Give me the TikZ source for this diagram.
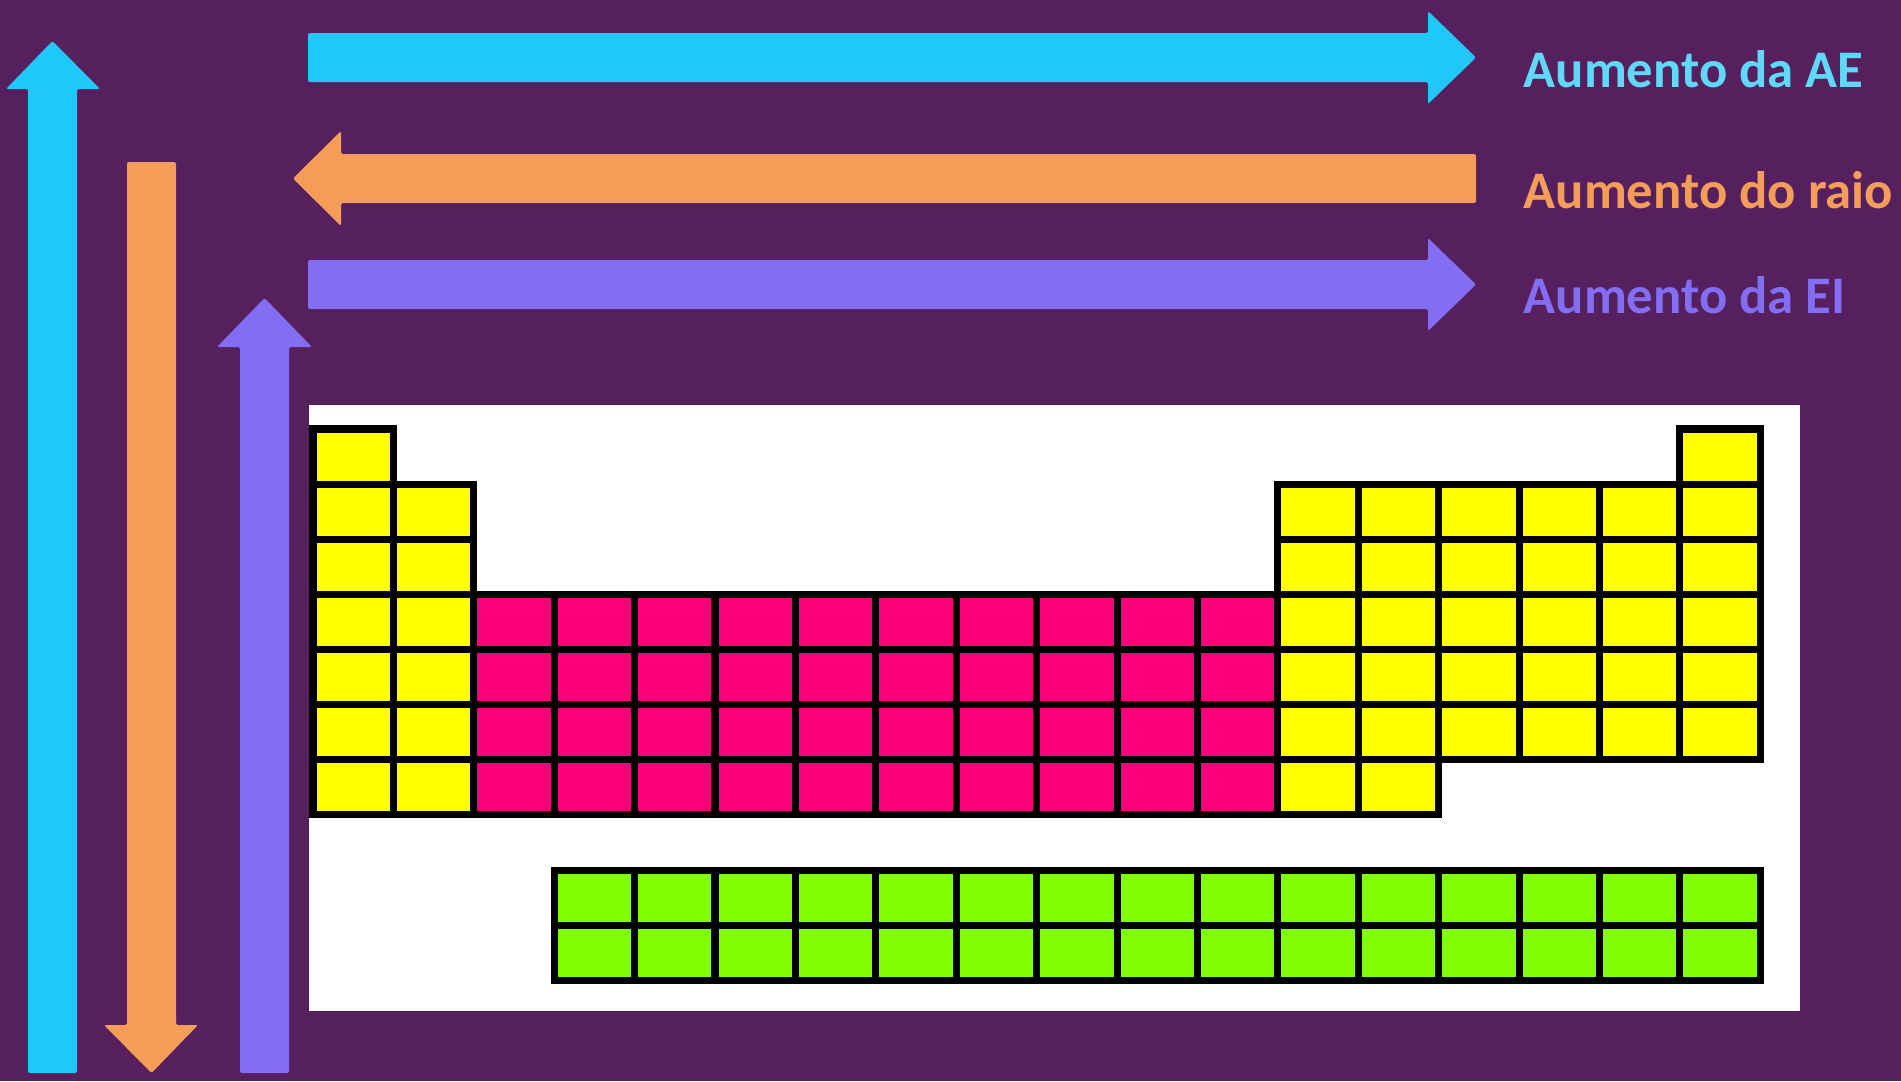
\documentclass[tikz,border=0pt]{standalone}
\usepackage{fontspec}
\setmainfont{Carlito}
\usepackage{tikz}
\usetikzlibrary{positioning}
\definecolor{fundo}{RGB}{86,31,94}
\definecolor{ciano}{RGB}{32,200,248}
\definecolor{cianotxt}{RGB}{96,216,248}
\definecolor{laranja}{RGB}{244,157,89}
\definecolor{roxo}{RGB}{130,110,242}
\definecolor{amarelo}{RGB}{255,255,0}
\definecolor{rosa}{RGB}{250,0,122}
\definecolor{verde}{RGB}{128,255,0}
\newcommand\celula[3]{\draw[celbox, fill=#3] ({313+80.4*#1},{429+55.1*#2}) rectangle +(80.4,55.1);}

\begin{document}
\begin{tikzpicture}[x=0.01cm, y=-0.01cm,
  seta/.style={rounded corners=0.6pt},
  celbox/.style={draw=black, line width=2pt},
  rotulo/.style={anchor=base west, inner sep=0pt, font=\fontsize{15pt}{18pt}\selectfont\bfseries}]
  \fill[fundo] (0,0) rectangle (1901,1081);
  \useasboundingbox (0,0) rectangle (1901,1081);

  \fill[ciano, seta] (308,33) -- (1428,33) -- (1428,11) -- (1476,57.5) -- (1428,104) -- (1428,82) -- (308,82) -- cycle;
  \fill[laranja, seta] (1476,154) -- (341,154) -- (341,131) -- (293,178.5) -- (341,226) -- (341,203) -- (1476,203) -- cycle;
  \fill[roxo, seta] (308,260) -- (1428,260) -- (1428,238) -- (1476,284.5) -- (1428,331) -- (1428,309) -- (308,309) -- cycle;

  \fill[ciano, seta] (28,1073) -- (28,89) -- (6,89) -- (52.5,41) -- (100,89) -- (77,89) -- (77,1073) -- cycle;
  \fill[laranja, seta] (127,162) -- (127,1025) -- (104,1025) -- (151.5,1073) -- (198,1025) -- (176,1025) -- (176,162) -- cycle;
  \fill[roxo, seta] (240,1073) -- (240,347) -- (217,347) -- (264.5,298) -- (312,347) -- (289,347) -- (289,1073) -- cycle;

  \node[rotulo, text=cianotxt] (ae) at (1523,87) {Aumento da AE};
  \node[rotulo, text=laranja] (raio) at (1523,208) {Aumento do raio};
  \node[rotulo, text=roxo] (ei) at (1523,313) {Aumento da EI};

  \fill[white] (309,405) rectangle (1800,1011);

  \celula{0}{0}{amarelo}
  \celula{17}{0}{amarelo}
  \foreach \r in {1,...,6} {
    \celula{0}{\r}{amarelo}
    \celula{1}{\r}{amarelo}
  }
  \foreach \r in {1,...,5} {
    \foreach \c in {12,...,17} {
      \celula{\c}{\r}{amarelo}
    }
  }
  \foreach \r in {3,...,6} {
    \foreach \c in {2,...,11} {
      \celula{\c}{\r}{rosa}
    }
  }
  \celula{12}{6}{amarelo}
  \celula{13}{6}{amarelo}

  \foreach \c in {3,...,17} {
    \draw[celbox, fill=verde] ({313+80.4*\c},870) rectangle +(80.4,55);
    \draw[celbox, fill=verde] ({313+80.4*\c},925) rectangle +(80.4,55);
  }
\end{tikzpicture}
\end{document}
